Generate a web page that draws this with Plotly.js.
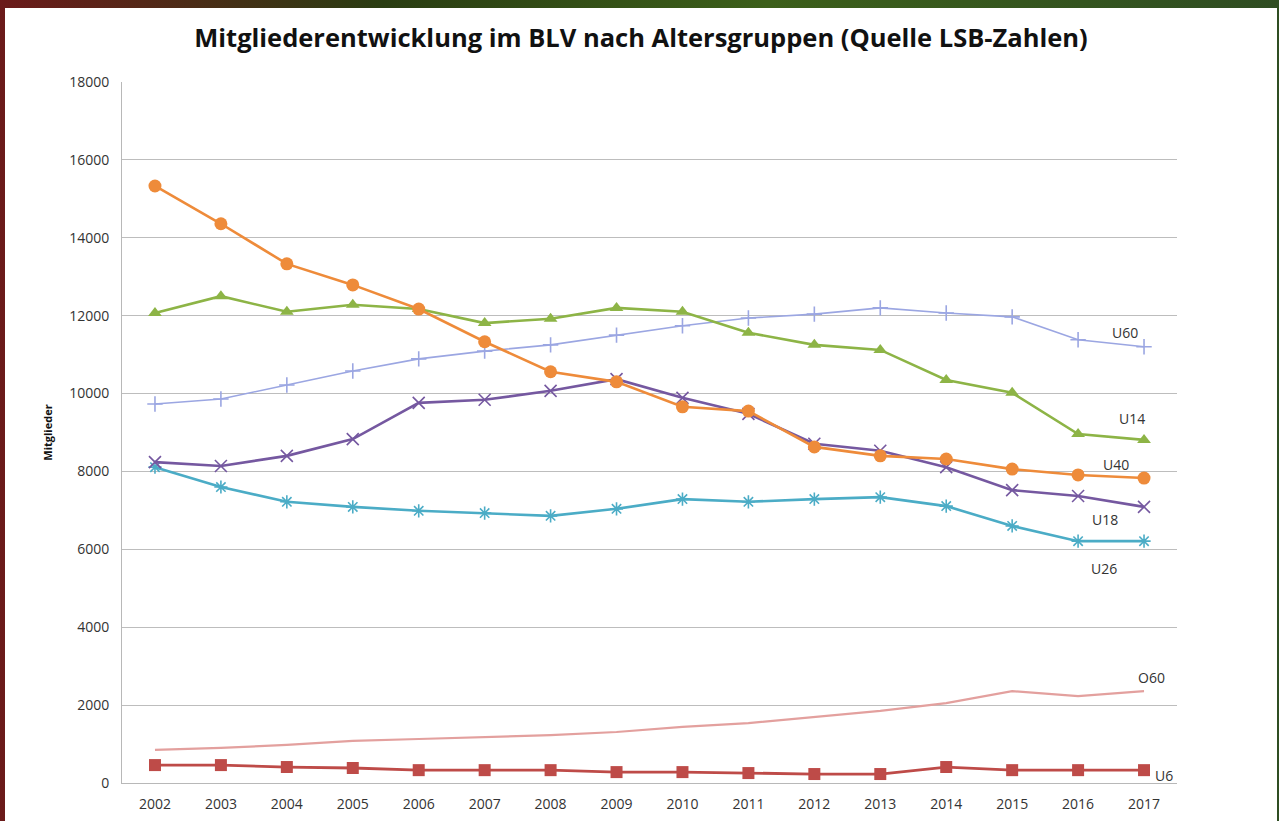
<!DOCTYPE html>
<html>
<head>
<meta charset="utf-8">
<script src="https://cdn.plot.ly/plotly-3.0.1.min.js"></script>
<style>
  html, body { margin:0; padding:0; width:1279px; height:821px; overflow:hidden;
    background: linear-gradient(90deg, #6b1a1a 0%, #2a3d12 30%, #3c5f1a 60%, #2f4d22 100%); }
  #chart { position:absolute; left:5px; top:8px; width:1272px; height:813px; background:#fff; }
</style>
</head>
<body>
<div id="chart"></div>
<script>
const years = [2002,2003,2004,2005,2006,2007,2008,2009,2010,2011,2012,2013,2014,2015,2016,2017];
const U40 = [15330,14360,13330,12790,12170,11330,10560,10300,9660,9550,8630,8400,8320,8060,7910,7830];
const U14 = [12070,12500,12100,12280,12170,11810,11920,12200,12100,11560,11250,11120,10350,10020,8960,8810];
const U60 = [9730,9860,10220,10580,10890,11090,11250,11500,11740,11940,12040,12200,12070,11970,11380,11200];
const U18 = [8240,8140,8400,8830,9760,9840,10070,10370,9890,9480,8710,8530,8110,7520,7370,7090];
const U26 = [8110,7600,7220,7090,6990,6930,6860,7040,7290,7220,7290,7340,7110,6600,6210,6210];
const O60 = [850,900,980,1080,1130,1180,1230,1310,1440,1540,1700,1850,2050,2360,2230,2360];
const U6  = [460,460,410,385,330,330,330,280,280,255,230,230,410,330,330,330];
const yTicks = [0,2000,4000,6000,8000,10000,12000,14000,16000,18000];

const labels = [
  {text:'U60', x:2016.71, y:11560},
  {text:'U14', x:2016.82, y:9350},
  {text:'U40', x:2016.57, y:8170},
  {text:'U18', x:2016.41, y:6760},
  {text:'U26', x:2016.39, y:5520},
  {text:'O60', x:2017.11, y:2700},
  {text:'U6',  x:2017.30, y:205}
];

function tr(name, y, color, width, symbol, size, thin) {
  const t = {x: years, y: y, name: name, type:'scatter', mode:'lines+markers',
    line:{color:color, width:width},
    marker:{symbol:symbol, size:size, color:color}};
  if (thin) t.marker.line = {color:color, width:1.6};
  return t;
}

const data = [
  tr('O60', O60, '#E3A09E', 2.2, 'circle', 1, false),
  tr('U6', U6, '#BE4B48', 2.8, 'square', 12, false),
  tr('U26', U26, '#4BACC6', 2.6, 'asterisk-open', 11, true),
  tr('U18', U18, '#7558A0', 2.6, 'x-thin-open', 12, true),
  tr('U60', U60, '#9BA6E2', 1.6, 'cross-thin-open', 11, true),
  tr('U14', U14, '#8DB446', 2.6, 'triangle-up', 12, false),
  tr('U40', U40, '#EE8B3A', 2.6, 'circle', 13, false)
];
data[0].mode = 'lines';

const layout = {
  width:1272, height:813,
  margin:{l:117, r:100, t:74, b:38},
  paper_bgcolor:'#ffffff', plot_bgcolor:'#ffffff',
  showlegend:false,
  title:{text:'<b>Mitgliederentwicklung im BLV nach Altersgruppen (Quelle LSB-Zahlen)</b>',
    x:0.5, xanchor:'center', y:0.963, yanchor:'middle',
    font:{family:'Open Sans', size:25.5, color:'#111'}},
  xaxis:{range:[2001.5,2017.5], tickvals:years, ticktext:years.map(String),
    showgrid:false, zeroline:false, showline:true, linecolor:'#B8B8B8', linewidth:1,
    ticks:'', ticklabelstandoff:8, tickfont:{family:'Open Sans', size:14, color:'#333'}, fixedrange:true},
  yaxis:{range:[0,18000], tickvals:yTicks, ticktext:yTicks.map(String),
    showgrid:true, gridcolor:'#BDBDBD', gridwidth:1, zeroline:false,
    showline:true, linecolor:'#B8B8B8', linewidth:1, ticks:'', ticklabelstandoff:9,
    tickfont:{family:'Open Sans', size:14, color:'#333'},
    title:{text:'<b>Mitglieder</b>', standoff:14, font:{family:'Open Sans', size:11, color:'#111'}},
    fixedrange:true},
  annotations: labels.map(l => ({text:l.text, x:l.x, y:l.y, xref:'x', yref:'y',
    showarrow:false, font:{family:'Open Sans', size:14, color:'#333'}}))
};

Plotly.newPlot('chart', data, layout, {displayModeBar:false, staticPlot:true});
</script>
</body>
</html>
